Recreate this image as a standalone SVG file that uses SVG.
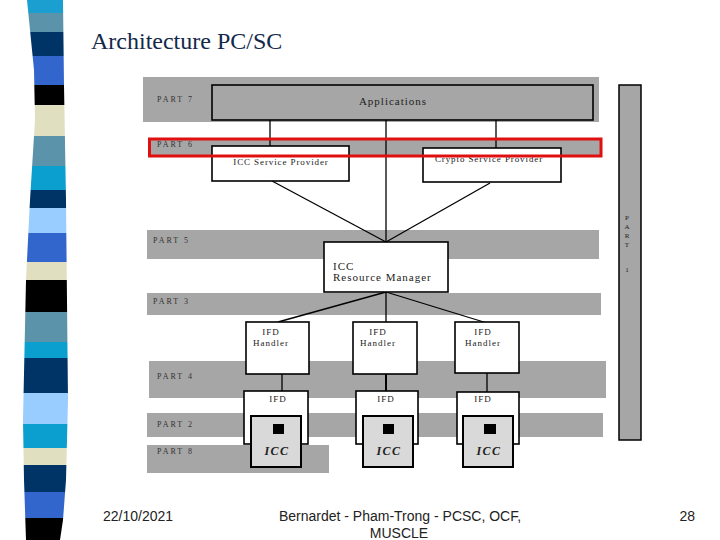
<svg xmlns="http://www.w3.org/2000/svg" width="720" height="540" viewBox="0 0 720 540">
<style>
.band{fill:#a6a6a6}
.box{fill:#fff;stroke:#000;stroke-width:1.6}
.icc{fill:#d9d9d9;stroke:#000;stroke-width:2}
.lbl{font-family:"Liberation Serif",serif;font-size:8px;letter-spacing:2px;fill:#333}
.t{font-family:"Liberation Serif",serif;fill:#222}
.con line{stroke:#000;stroke-width:1.3}
.foot{font-family:"Liberation Sans",Arial,sans-serif;font-size:14px;fill:#222}
</style>
<defs>
<clipPath id="stripeClip">
<path d="M27,0 L63,0 L64,85 L66,200 L68,400 L66,480 L63,520 L60,540 L26,540 L24,480 L23,420 L26,280 L30,200 L35,120 L34,70 L30,30 Z"/>
</clipPath>
</defs>
<rect width="720" height="540" fill="#fff"/>
<g id="stripes" clip-path="url(#stripeClip)">
<rect x="20" y="0" width="50" height="13" fill="#1a9fd0"/>
<rect x="20" y="13" width="50" height="19" fill="#5b93ab"/>
<rect x="20" y="32" width="50" height="24" fill="#003366"/>
<rect x="20" y="56" width="50" height="29" fill="#3366cc"/>
<rect x="20" y="85" width="50" height="20" fill="#000"/>
<rect x="20" y="105" width="50" height="31" fill="#e0dfc0"/>
<rect x="20" y="136" width="50" height="30" fill="#5b93ab"/>
<rect x="20" y="166" width="50" height="24" fill="#0a9fcf"/>
<rect x="20" y="190" width="50" height="18" fill="#003366"/>
<rect x="20" y="208" width="50" height="25" fill="#99ccff"/>
<rect x="20" y="233" width="50" height="29" fill="#3366cc"/>
<rect x="20" y="262" width="50" height="18" fill="#e0dfc0"/>
<rect x="20" y="280" width="50" height="32" fill="#000"/>
<rect x="20" y="312" width="50" height="30" fill="#5b93ab"/>
<rect x="20" y="342" width="50" height="16" fill="#0a9fcf"/>
<rect x="20" y="358" width="50" height="35" fill="#003366"/>
<rect x="20" y="393" width="50" height="31" fill="#99ccff"/>
<rect x="20" y="424" width="50" height="24" fill="#0a9fcf"/>
<rect x="20" y="448" width="50" height="17" fill="#e0dfc0"/>
<rect x="20" y="465" width="50" height="27" fill="#003366"/>
<rect x="20" y="492" width="50" height="26" fill="#3366cc"/>
<rect x="20" y="518" width="50" height="22" fill="#000"/>
</g>
<text id="title" x="91" y="49" font-family="Liberation Serif, serif" font-size="24" fill="#13294b">Architecture PC/SC</text>

<g id="bands">
<rect class="band" x="143" y="77" width="456" height="45"/>
<rect class="band" x="149" y="140" width="452" height="15"/>
<rect class="band" x="147" y="230" width="452" height="29"/>
<rect class="band" x="147" y="293" width="454" height="22"/>
<rect class="band" x="149" y="361" width="457" height="37"/>
<rect class="band" x="147" y="413" width="456" height="24"/>
<rect class="band" x="147" y="445" width="182" height="28"/>
<text class="lbl" x="157" y="102">PART  7</text>
<text class="lbl" x="157" y="147">PART  6</text>
<text class="lbl" x="153" y="243">PART  5</text>
<text class="lbl" x="153" y="304">PART  3</text>
<text class="lbl" x="157" y="379">PART  4</text>
<text class="lbl" x="157" y="427">PART  2</text>
<text class="lbl" x="157" y="454">PART  8</text>
</g>

<g id="part1">
<rect x="619" y="85" width="22" height="355" fill="#a6a6a6" stroke="#000" stroke-width="1.5"/>
<g class="t" font-size="7" text-anchor="middle" fill="#333">
<text x="627" y="220">P</text>
<text x="627" y="229">A</text>
<text x="627" y="238">R</text>
<text x="627" y="247">T</text>
<text x="627" y="272">1</text>
</g>
</g>

<g class="con" id="connectors">
<line x1="270" y1="120" x2="270" y2="146"/>
<line x1="496" y1="120" x2="496" y2="148"/>
<line x1="386" y1="120" x2="386" y2="242"/>
<line x1="272" y1="181" x2="386" y2="242"/>
<line x1="490" y1="183" x2="386" y2="242"/>
<line x1="386" y1="292" x2="278" y2="322"/>
<line x1="386" y1="292" x2="386" y2="322"/>
<line x1="386" y1="292" x2="487" y2="323"/>
<line x1="282" y1="374" x2="282" y2="391"/>
<line x1="386" y1="374" x2="386" y2="391" style="stroke-width:2"/>
<line x1="487" y1="373" x2="487" y2="392"/>
</g>

<g id="applications">
<rect class="box" x="212" y="85" width="381" height="35" style="fill:none"/>
<text class="t" x="393" y="105" font-size="11" letter-spacing="1" text-anchor="middle">Applications</text>
</g>

<g id="icc-service-provider">
<rect class="box" x="212" y="146" width="137" height="35"/>
<text class="t" x="281" y="165" font-size="9" letter-spacing="0.9" text-anchor="middle">ICC Service Provider</text>
</g>

<g id="crypto-service-provider">
<rect class="box" x="423" y="148" width="138" height="34"/>
<text class="t" x="489" y="162" font-size="9" letter-spacing="0.9" text-anchor="middle">Crypto Service Provider</text>
</g>

<rect id="part6-highlight" x="149.5" y="139" width="451.5" height="17" fill="none" stroke="#e01010" stroke-width="3"/>

<g id="resource-manager">
<rect class="box" x="324" y="242" width="124" height="50"/>
<text class="t" x="333" y="270" font-size="11" letter-spacing="1">ICC</text>
<text class="t" x="333" y="281" font-size="11" letter-spacing="1">Resource Manager</text>
</g>

<g id="ifd-handler-1">
<rect class="box" x="246" y="322" width="63" height="52"/>
<text class="t" x="271" y="335" font-size="9" letter-spacing="1" text-anchor="middle">IFD</text>
<text class="t" x="271" y="346" font-size="9" letter-spacing="1" text-anchor="middle">Handler</text>
</g>
<g id="ifd-handler-2">
<rect class="box" x="353" y="322" width="64" height="52"/>
<text class="t" x="378" y="335" font-size="9" letter-spacing="1" text-anchor="middle">IFD</text>
<text class="t" x="378" y="346" font-size="9" letter-spacing="1" text-anchor="middle">Handler</text>
</g>
<g id="ifd-handler-3">
<rect class="box" x="455" y="322" width="64" height="51"/>
<text class="t" x="483" y="335" font-size="9" letter-spacing="1" text-anchor="middle">IFD</text>
<text class="t" x="483" y="346" font-size="9" letter-spacing="1" text-anchor="middle">Handler</text>
</g>

<g id="ifd-1">
<rect class="box" x="244" y="391" width="64" height="53"/>
<text class="t" x="278" y="402" font-size="9" letter-spacing="1" text-anchor="middle">IFD</text>
<rect class="icc" x="251" y="416" width="50" height="51"/>
<rect x="273" y="424" width="11" height="10" fill="#000"/>
<text class="t" x="277" y="455" font-size="12" font-weight="bold" font-style="italic" letter-spacing="1.5" text-anchor="middle">ICC</text>
</g>
<g id="ifd-2">
<rect class="box" x="356" y="391" width="62" height="53"/>
<text class="t" x="386" y="402" font-size="9" letter-spacing="1" text-anchor="middle">IFD</text>
<rect class="icc" x="363" y="416" width="50" height="51"/>
<rect x="383" y="424" width="11" height="10" fill="#000"/>
<text class="t" x="389" y="455" font-size="12" font-weight="bold" font-style="italic" letter-spacing="1.5" text-anchor="middle">ICC</text>
</g>
<g id="ifd-3">
<rect class="box" x="457" y="392" width="62" height="52"/>
<text class="t" x="483" y="402" font-size="9" letter-spacing="1" text-anchor="middle">IFD</text>
<rect class="icc" x="463" y="416" width="50" height="51"/>
<rect x="484" y="424" width="12" height="10" fill="#000"/>
<text class="t" x="489" y="455" font-size="12" font-weight="bold" font-style="italic" letter-spacing="1.5" text-anchor="middle">ICC</text>
</g>

<g id="footer">
<text class="foot" x="103" y="521">22/10/2021</text>
<text class="foot" x="400" y="521" text-anchor="middle">Bernardet - Pham-Trong - PCSC, OCF,</text>
<text class="foot" x="399" y="538" text-anchor="middle">MUSCLE</text>
<text class="foot" x="695" y="521" text-anchor="end">28</text>
</g>
</svg>
